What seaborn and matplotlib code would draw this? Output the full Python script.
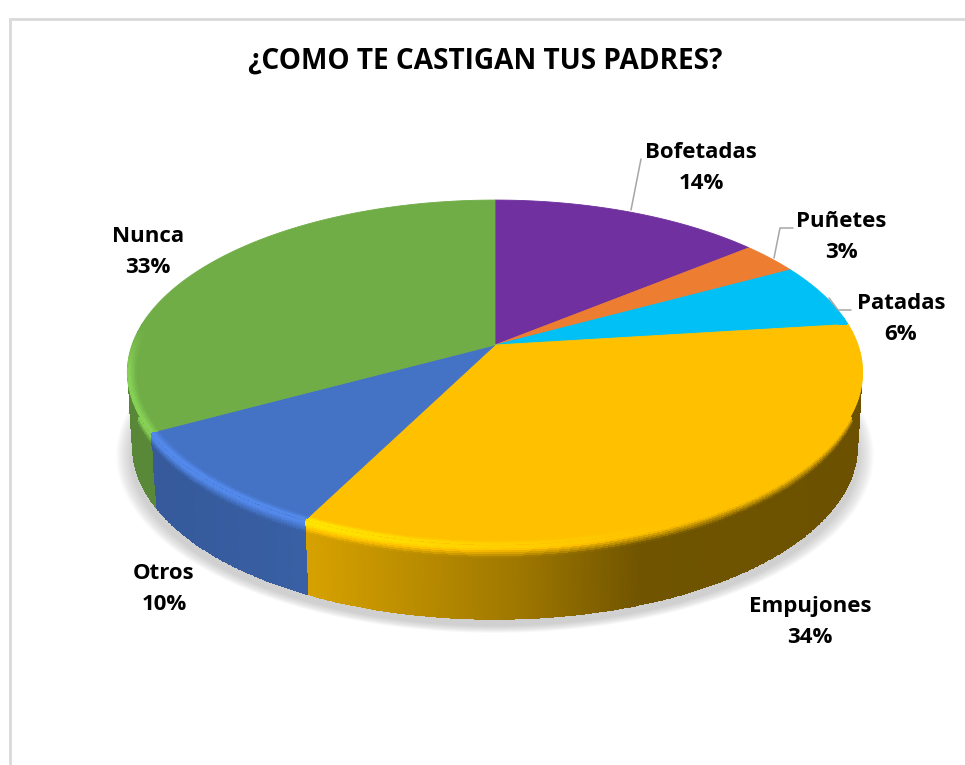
import numpy as np
import matplotlib
matplotlib.use('Agg')
import matplotlib.pyplot as plt
import seaborn as sns

# Datos
categorias = ['Bofetadas', 'Puñetes', 'Patadas', 'Empujones', 'Otros', 'Nunca']
valores = [14, 3, 6, 34.4, 9.6, 33]
colores_hex = ['#7030A0', '#ED7D31', '#00C0F5', '#FFC000', '#4472C4', '#70AD47']
titulo = '¿COMO TE CASTIGAN TUS PADRES?'

# Geometria del pastel en pixeles de la figura
CX, CY = 495, 345
A, B, C = 168, 0.159, 363
PROF = 75
ENCOGE = 0.985

sns.set_theme(style='white')
plt.rcParams['font.family'] = ['Open Sans', 'DejaVu Sans']
paleta = sns.color_palette(colores_hex)


def proyectar(theta):
    # theta en grados, horario desde las 12, con perspectiva
    u = np.sin(np.radians(theta))
    v = np.cos(np.radians(theta))
    d = 1 + B * v
    return CX + C * u / d, CY - A * v / d


def factor(x, t):
    s = np.interp(x, [130, 310, 520, 640, 870], [.78, .84, .62, .44, .42])
    h = np.interp(x, [130, 310, 500, 680], [.2, .2, .08, 0])
    sube = np.interp(t, [-.14, -.04], [0, 1])
    baja = np.interp(t, [.05, .17], [0, 1])
    return (1 + h * sube) * (1 - baja) + s * baja


def malla(ini, fin, ts):
    # vertices de una banda del borde, t<0 cae en la cara superior, t>0 en la pared
    th = np.linspace(ini, fin, int(fin - ini) * 4 + 2)
    tx, ty = proyectar(th)
    X, Y = [], []
    for t in ts:
        if t < 0:
            k = 1 + t * 0.18
            X.append(CX + (tx - CX) * k)
            Y.append(372 + (ty - 372) * k)
        else:
            X.append(CX + (tx - CX) * (1 - (1 - ENCOGE) * t))
            Y.append(ty + PROF * t)
    X, Y = np.array(X), np.array(Y)
    xm = (X[:-1, :-1] + X[1:, 1:]) / 2
    tm = ((ts[:-1] + ts[1:]) / 2)[:, None] * np.ones_like(xm)
    vm = np.cos(np.radians((th[:-1] + th[1:]) / 2))[None, :]
    return X, Y, xm, tm, vm


fig = plt.figure(figsize=(9.65, 7.65), dpi=100)
ax = fig.add_axes([0, 0, 1, 1])
ax.set_xlim(0, 965)
ax.set_ylim(765, 0)
ax.axis('off')

# Marco del grafico, solo arriba e izquierda se ven
ax.plot([10, 10, 965], [765, 19, 19], color='#D9D9D9', lw=2, solid_joinstyle='miter')

# Sombra difusa bajo el pastel
tt = np.linspace(0, 360, 361)
sx, sy = proyectar(tt)
for g in np.linspace(1.03, 0.99, 14):
    ax.fill(CX + (sx - CX) * g, sy + PROF + 8 + (sy - 372) * (g - 1), color='#8C8C8C', alpha=0.03, lw=0, zorder=1)

limites = np.concatenate([[0], np.cumsum(valores)]) * 3.6

# Pared lateral, queda debajo de la cara superior
ts_pared = np.concatenate([np.linspace(0, .2, 9), np.linspace(.25, 1, 6)])
ts_bisel = np.linspace(-.14, 0, 7)
for i, color in enumerate(paleta):
    ini, fin = max(limites[i], 80), min(limites[i + 1], 280)
    if fin <= ini:
        continue
    X, Y, xm, tm, vm = malla(ini, fin, ts_pared)
    rgb = np.clip(np.array(color)[None, None, :] * factor(xm, tm)[:, :, None], 0, 1)
    ax.pcolormesh(X, Y, rgb, shading='flat', zorder=1.5)

# Cara superior
for i, color in enumerate(paleta):
    th = np.linspace(limites[i], limites[i + 1], 120)
    x, y = proyectar(th)
    ax.fill(np.r_[CX, x], np.r_[CY, y], color=color, lw=0.6, zorder=2)

# Bisel sobre la cara superior, se desvanece hacia atras
for i, color in enumerate(paleta):
    ini, fin = max(limites[i], 80), min(limites[i + 1], 280)
    if fin <= ini:
        continue
    X, Y, xm, tm, vm = malla(ini, fin, ts_bisel)
    fuerza = np.clip((0.1 - vm) / 0.25, 0, 1)
    f = 1 + (factor(xm, tm) - 1) * fuerza
    rgb = np.clip(np.array(color)[None, None, :] * f[:, :, None], 0, 1)
    ax.pcolormesh(X, Y, rgb, shading='flat', zorder=3)

# Lineas guia
guias = [
    ([641, 631], [159, 210]),
    ([793, 780, 774], [228, 228, 258]),
    ([851, 838, 829], [310, 310, 298]),
]
for gx, gy in guias:
    ax.plot(gx, gy, color='#A6A6A6', lw=1.1, zorder=4)

# Etiquetas
pos_etiquetas = [(701, 168), (841, 237), (901, 319), (810, 622), (164, 589), (148, 252)]
for nombre, valor, (px, py) in zip(categorias, valores, pos_etiquetas):
    ax.text(px, py, f'{nombre}\n{valor:.0f}%', ha='center', va='center', fontsize=16,
            fontweight='bold', color='black', linespacing=1.65, zorder=5)

ax.text(485, 61, titulo, ha='center', va='center', fontsize=20.2, fontweight='bold', color='black')

fig.savefig('out.png', dpi=100)
